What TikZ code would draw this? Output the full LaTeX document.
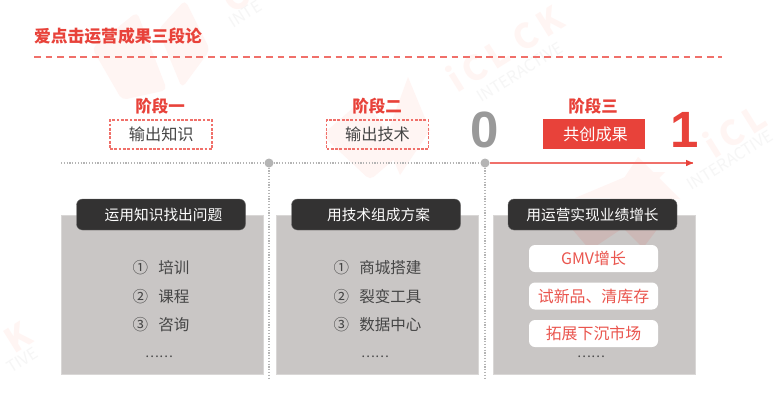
\documentclass[tikz,border=0pt]{standalone}
\usepackage{fontspec}
\setmainfont{Noto Sans CJK SC}
\newfontfamily\latinbold{Liberation Sans}[Scale=1]
\usetikzlibrary{arrows.meta}
\definecolor{rd}{HTML}{E8423A}
\definecolor{rdl}{HTML}{F0706A}
\definecolor{panel}{HTML}{C9C6C5}
\definecolor{hdr}{HTML}{333232}
\definecolor{gry}{HTML}{B4B4B4}
\definecolor{txt}{HTML}{454545}
\definecolor{wm}{HTML}{FFF5F3}
\definecolor{wmg}{HTML}{F6F6F6}
\tikzset{
  x=1pt,y=-1pt,
  every node/.style={inner sep=0pt,outer sep=0pt},
  stage/.style={text=rd,font=\fontsize{16.5}{17}\selectfont\bfseries},
  dashbox/.style={draw=rdl,line width=1.1pt,dash pattern=on 2.8pt off 1.5pt,minimum width=102pt,minimum height=29pt,text=txt,font=\fontsize{16.2}{17}\selectfont},
  solidbox/.style={fill=rd,minimum width=102pt,minimum height=30pt,text=white,font=\fontsize{16.2}{17}\selectfont},
  panelbox/.style={fill=panel,draw=panel!70!white,line width=0.4pt,minimum width=202pt,minimum height=159pt},
  header/.style={fill=hdr,draw=hdr!70!white,line width=0.4pt,rounded corners=6pt,minimum width=169pt,minimum height=31pt,text=white,font=\fontsize{14.7}{15}\selectfont},
  item/.style={text=txt,anchor=west,font=\fontsize{15.5}{16}\selectfont},
  pill/.style={fill=white,rounded corners=6pt,minimum width=129pt,minimum height=27pt,text=rd!90!white,font=\fontsize{15.9}{16}\selectfont},
  more/.style={text=txt,font=\fontsize{13}{14}\selectfont},
  hub/.style={circle,fill=gry,minimum size=9pt},
  rail/.style={gry,line width=1.2pt,dash pattern=on 1.2pt off 1.6pt},
  wmtext/.style={text=wm,rotate=32,font=\fontsize{34}{34}\selectfont\bfseries},
  wmsub/.style={text=wmg,rotate=32,font=\fontsize{16}{16}\selectfont},
  wmshape/.style={fill=wm,draw=none}
}
\begin{document}
\begin{tikzpicture}
\useasboundingbox (0,0) rectangle (775,405);
\fill[white] (0,0) rectangle (775,405);
% watermark
\fill[wmshape,rounded corners=5pt] (92,48) -- (137,12) -- (167,90) -- (122,100) -- cycle;
\fill[wmshape,rounded corners=5pt] (158,30) -- (185,0) -- (210,50) -- (182,88) -- cycle;
\fill[wmshape,rounded corners=5pt] (322,135) -- (362,100) -- (405,150) -- (370,180) -- cycle;
\fill[wmshape] (408,77) -- (430,130) -- (400,175) -- (385,140) -- cycle;
\fill[wmshape] (637,172) -- (665,172) -- (640,198) -- (575,198) -- cycle;
\fill[wmshape] (638,157) -- (680,199) -- (610,199) -- cycle;
\node[wmtext] (wma) at (505,48) {i\,C\,L\,\,C\,K};
\node[wmsub] (wmb) at (520,72) {INTERACTIVE};
\node[wmtext] (wmc) at (735,130) {i\,C\,L};
\node[wmsub] (wmd) at (730,160) {INTERACTIVE};
\node[wmtext] (wme) at (18,337) {K};
\node[wmsub] (wmf) at (22,360) {TIVE};
\node[wmsub] (wmgg) at (245,14) {INTE};
\node[wmtext] (wmh) at (235,-2) {C};
% title
\node[text=rd,anchor=west,font=\fontsize{16.8}{17}\selectfont\bfseries] (title) at (34,36) {爱点击运营成果三段论};
\coordinate (ruleL) at (34,57);
\coordinate (ruleR) at (722,57);
\draw[draw=rdl,line width=1.1pt,dash pattern=on 6.8pt off 4.8pt] (ruleL) -- (ruleR);
% rails
\coordinate (railL) at (61,163);
\coordinate (foot1) at (269,378);
\coordinate (foot2) at (485,378);
\node[hub] (hub1) at (269,163) {};
\node[hub] (hub2) at (485,163) {};
\coordinate (tip) at (693,163);
\draw[rail] (railL) -- (hub1);
\draw[rail] (hub1) -- (hub2);
\draw[rail] (hub1) -- (foot1);
\draw[rail] (hub2) -- (foot2);
\draw[rdl,line width=1.4pt] (hub2) -- (tip);
\fill[rd] (tip) ++(-7,-3.2) -- ++(7,3.2) -- ++(-7,3.2) -- cycle;
% stages
\node[stage] (s1) at (160,106) {阶段一};
\node[stage] (s2) at (377,106) {阶段二};
\node[stage] (s3) at (593,106) {阶段三};
\node[dashbox] (b1) at (161,134.5) {\hspace{0.5pt}输出知识};
\node[dashbox] (b2) at (377.5,134.5) {输出技术};
\node[solidbox] (b3) at (594,134) {\hspace{3pt}共创成果};
\node[text=gry!85!black,font=\fontsize{51}{51}\latinbold\bfseries] (zero) at (485,130) {0};
\node[text=rd,font=\fontsize{51}{51}\latinbold\bfseries] (one) at (685,130) {1};
% panels
\node[panelbox] (p1) at (162,294.5) {};
\node[panelbox] (p2) at (377.5,294.5) {};
\node[panelbox] (p3) at (594,294.5) {};
\fill[rd,opacity=0.10] (560,215) -- (668,215) -- (643,248) -- (623,228) -- (590,250) -- cycle;
\node[header] (h1) at (161,214.5) {\hspace{5pt}运用知识找出问题};
\node[header] (h2) at (376,214.5) {\hspace{5pt}用技术组成方案};
\node[header] (h3) at (592.5,214.5) {用运营实现业绩增长};
% lists
\node[item] (a1) at (132.5,268) {①\hspace{10.5pt}培训};
\node[item] (a2) at (132.5,296.5) {②\hspace{10.5pt}课程};
\node[item] (a3) at (132.5,325) {③\hspace{10.5pt}咨询};
\node[more] (a4) at (159,357) {……};
\node[item] (c1) at (333.5,268) {①\hspace{10.5pt}商城搭建};
\node[item] (c2) at (333.5,296.5) {②\hspace{10.5pt}裂变工具};
\node[item] (c3) at (333.5,325) {③\hspace{10.5pt}数据中心};
\node[more] (c4) at (375,357) {……};
\node[pill] (d1) at (593.5,258.5) {GMV增长};
\node[pill] (d2) at (593.5,296) {试新品、清库存};
\node[pill] (d3) at (593.5,333.5) {拓展下沉市场};
\node[more] (d4) at (591,357) {……};
\end{tikzpicture}
\end{document}
